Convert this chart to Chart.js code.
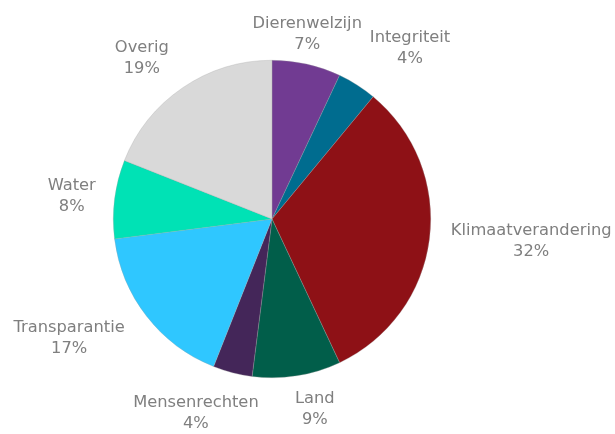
<!DOCTYPE html>
<html>
<head>
<meta charset="utf-8">
<script src="https://cdn.jsdelivr.net/npm/chart.js@4/dist/chart.umd.min.js"></script>
<style>
  html, body { margin: 0; padding: 0; background: #ffffff; }
  #wrap { width: 615px; height: 434px; }
</style>
</head>
<body>
<div id="wrap"><canvas id="c" width="615" height="434"></canvas></div>
<script>
// ---- data ----
const categories = ["Dierenwelzijn", "Integriteit", "Klimaatverandering", "Land", "Mensenrechten", "Transparantie", "Water", "Overig"];
const shares = [7, 4, 32, 9, 4, 17, 8, 19];

// ---- styling ----
const sliceColors = ["#713B92", "#006C8F", "#8E1116", "#015E4A", "#442659", "#2FC7FF", "#00E2B5", "#D9D9D9"];
const labelNudges = [[-14, 2], [25, -9], [10, -2], [13, 1], [-18, 9], [-24, 2], [-7, 1], [-19, -2]];
const labelFont = "16.3px 'DejaVu Sans'";
const labelColor = "#7F7F7F";
const lineH = 21;

const labelPlugin = {
  id: 'outsideLabels',
  afterDatasetsDraw(chart) {
    const ctx = chart.ctx;
    const meta = chart.getDatasetMeta(0);
    const total = shares.reduce((a, b) => a + b, 0);
    ctx.save();
    ctx.font = labelFont;
    ctx.fillStyle = labelColor;
    ctx.textAlign = 'center';
    ctx.textBaseline = 'middle';
    meta.data.forEach((arc, i) => {
      const p = arc.getProps(['x', 'y', 'startAngle', 'endAngle', 'outerRadius'], true);
      const mid = (p.startAngle + p.endAngle) / 2;
      const dx = Math.cos(mid), dy = Math.sin(mid);
      const lines = [categories[i], Math.round(shares[i] / total * 100) + '%'];
      const w = Math.max(...lines.map(l => ctx.measureText(l).width));
      const h = lines.length * lineH;
      const r = p.outerRadius + 12;
      const cx = p.x + dx * r + dx * w / 2 + labelNudges[i][0];
      const cy = p.y + dy * r + dy * h / 2 + labelNudges[i][1];
      lines.forEach((l, k) => {
        ctx.fillText(l, cx, cy - h / 2 + lineH / 2 + k * lineH);
      });
    });
    ctx.restore();
  }
};

new Chart(document.getElementById('c'), {
  type: 'pie',
  data: {
    labels: categories,
    datasets: [{
      data: shares,
      backgroundColor: sliceColors,
      borderColor: 'rgba(160,160,160,0.6)',
      borderWidth: 0.5
    }]
  },
  options: {
    responsive: false,
    animation: false,
    layout: { padding: { top: 60, bottom: 56, left: 113, right: 184 } },
    plugins: {
      legend: { display: false },
      tooltip: { enabled: false }
    }
  },
  plugins: [labelPlugin]
});
</script>
</body>
</html>
